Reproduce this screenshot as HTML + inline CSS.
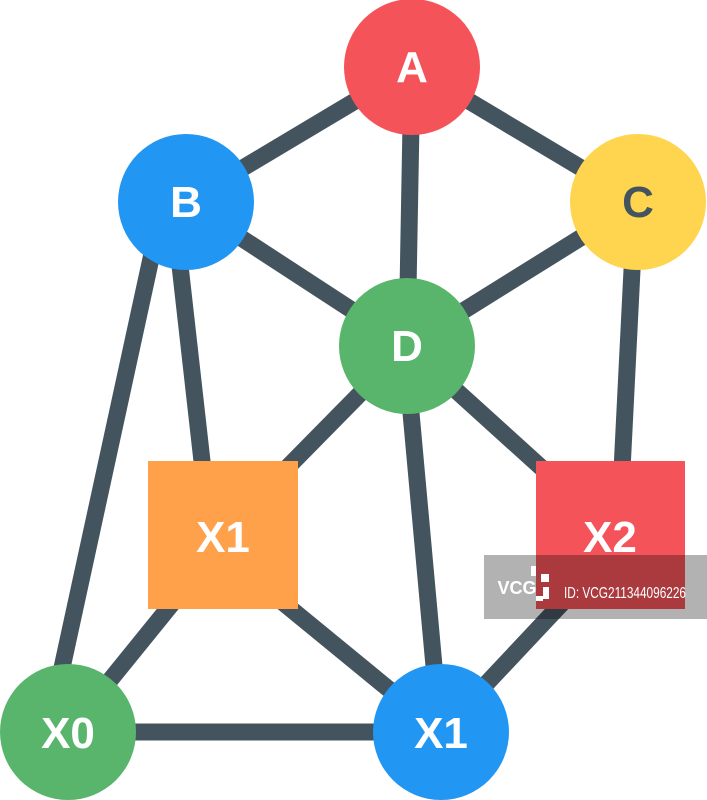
<!DOCTYPE html>
<html><head><style>
html,body{margin:0;padding:0;background:#fff;width:707px;height:800px;overflow:hidden}
text{font-family:"Liberation Sans",sans-serif;font-weight:bold;text-anchor:middle}
</style></head><body>
<svg width="707" height="800" viewBox="0 0 707 800" xmlns="http://www.w3.org/2000/svg">
<g stroke="#44545f" stroke-width="17" stroke-linecap="butt">
<line x1="412" y1="67" x2="186" y2="202"/>
<line x1="412" y1="67" x2="638" y2="202"/>
<line x1="412" y1="67" x2="407" y2="346"/>
<line x1="186" y1="202" x2="407" y2="346"/>
<line x1="638" y1="202" x2="407" y2="346"/>
<line x1="176" y1="230" x2="203" y2="470"/>
<line x1="155" y1="240" x2="55" y2="700"/>
<line x1="634" y1="230" x2="622" y2="470"/>
<line x1="407" y1="346" x2="280" y2="475"/>
<line x1="407" y1="346" x2="555" y2="480"/>
<line x1="408" y1="380" x2="438" y2="710"/>
<line x1="175" y1="600" x2="68" y2="732"/>
<line x1="280" y1="600" x2="441" y2="732"/>
<line x1="565" y1="600" x2="441" y2="732"/>
<line x1="68" y1="732" x2="441" y2="732"/>
</g>
<circle cx="412" cy="67" r="68" fill="#f4535a"/>
<circle cx="186" cy="202" r="68" fill="#2196f3"/>
<circle cx="638" cy="202" r="68" fill="#ffd54f"/>
<circle cx="407" cy="346" r="68" fill="#59b56c"/>
<rect x="148" y="461" width="150" height="148" fill="#ffa04a"/>
<rect x="536" y="461" width="149" height="148" fill="#f4535a"/>
<circle cx="68" cy="732" r="68" fill="#59b56c"/>
<circle cx="441" cy="732" r="68" fill="#2196f3"/>
<g font-size="44">
<text x="412" y="82" fill="#fff">A</text>
<text x="186" y="217" fill="#fff">B</text>
<text x="638" y="217" fill="#44545f">C</text>
<text x="407" y="361" fill="#fff">D</text>
<text x="223" y="552" fill="#fff">X1</text>
<text x="610" y="552" fill="#fff">X2</text>
<text x="68" y="748" fill="#fff">X0</text>
<text x="441" y="748" fill="#fff">X1</text>
</g>
<rect x="484" y="555" width="223" height="64" fill="#000" fill-opacity="0.3"/>
<text x="517" y="594" font-size="18" fill="#fff">VCG</text>
<g fill="#fff"><rect x="531" y="566" width="5" height="10"/><rect x="541" y="574" width="8" height="8"/><rect x="536" y="596" width="7" height="5"/><rect x="543" y="587" width="6" height="12"/></g>
<text x="564" y="598" font-size="16" fill="#fff" textLength="122" lengthAdjust="spacingAndGlyphs" style="font-weight:normal;text-anchor:start">ID: VCG211344096226</text>
</svg>
</body></html>
